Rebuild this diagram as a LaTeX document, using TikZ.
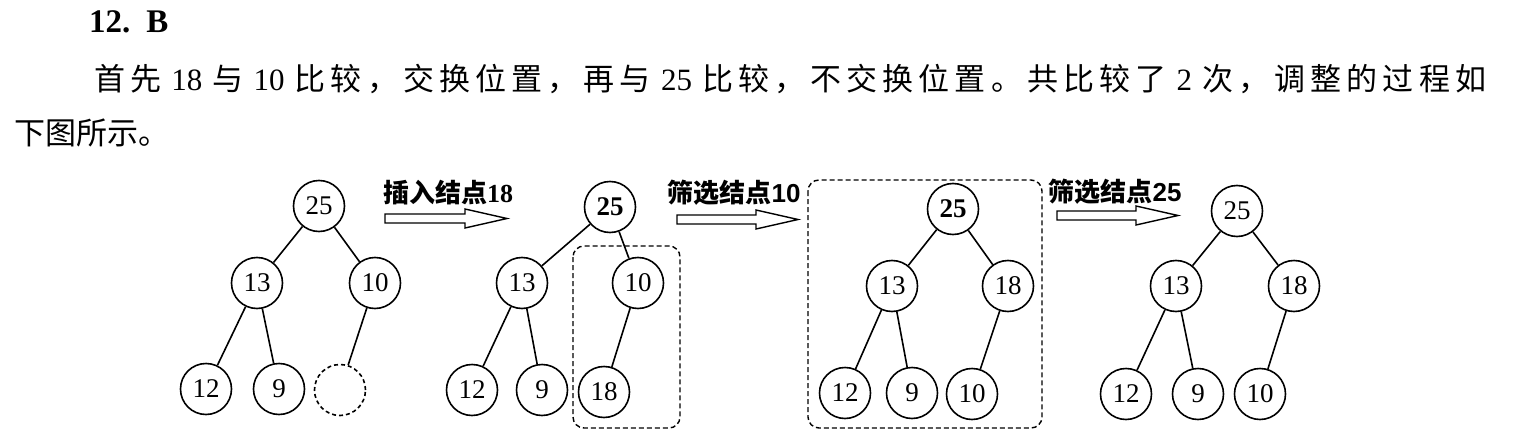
\documentclass[tikz,border=0pt]{standalone}
\usepackage{fontspec}
\setmainfont{Liberation Serif}
\newfontfamily\cjk{Noto Sans CJK SC}
\newfontfamily\lsans{Liberation Sans}
\newcommand\jg{\hspace{0pt plus 1fil}}
\newcommand\dg[1]{\hspace{5pt}{\rmfamily\fontsize{31}{31}\selectfont #1}\hspace{5pt}}
\begin{document}
\begin{tikzpicture}[x=1pt,y=-1pt,
  nd/.style={circle,draw,line width=1.6pt,minimum size=51pt,inner sep=0pt,font=\fontsize{27}{27}\selectfont},
  emp/.style={nd,dash pattern=on 4pt off 3pt},
  ed/.style={line width=1.6pt},
  dbox/.style={draw,dash pattern=on 5pt off 3pt,line width=1.4pt,rounded corners=11pt},
  lab/.style={inner sep=0pt,font=\fontsize{26}{26}\selectfont\bfseries},
  harr/.style={line width=1.4pt,line join=miter}]
\useasboundingbox (0,0) rectangle (1519,447);
% header text
\node[anchor=west,inner sep=0pt,font=\fontsize{33}{33}\selectfont\bfseries] (head) at (89,22) {12.\hspace{16pt}B};
\node[anchor=west,inner sep=0pt,font=\fontsize{31}{31}\selectfont] (line2) at (94,79) {\makebox[1392pt][s]{\cjk 首\jg 先\jg\dg{18}\jg 与\jg\dg{10}\jg 比\jg 较\jg ，\jg 交\jg 换\jg 位\jg 置\jg ，\jg 再\jg 与\jg\dg{25}\jg 比\jg 较\jg ，\jg 不\jg 交\jg 换\jg 位\jg 置\jg 。\jg 共\jg 比\jg 较\jg 了\jg\dg{2}\jg 次\jg ，\jg 调\jg 整\jg 的\jg 过\jg 程\jg 如}};
\node[anchor=west,inner sep=0pt,font=\fontsize{31}{31}\selectfont] (line3) at (14,133) {\cjk 下图所示。};
% tree 1
\node[nd] (a25) at (319,206) {25};
\node[nd] (a13) at (257,283) {13};
\node[nd] (a10) at (375,283) {10};
\node[nd] (a12) at (206,389) {12};
\node[nd] (a9) at (279,389) {9};
\node[emp] (ae) at (340,390) {};
\draw[ed] (a25) -- (a13); \draw[ed] (a25) -- (a10);
\draw[ed] (a13) -- (a12); \draw[ed] (a13) -- (a9);
\draw[ed] (a10) -- (ae);
% tree 2
\node[nd,font=\fontsize{27}{27}\selectfont\bfseries] (b25) at (610,207) {25};
\node[nd] (b13) at (522,283) {13};
\node[nd] (b10) at (638,283) {10};
\node[nd] (b12) at (472,390) {12};
\node[nd] (b9) at (542,390) {9};
\node[nd] (b18) at (604,392) {18};
\draw[ed] (b25) -- (b13); \draw[ed] (b25) -- (b10);
\draw[ed] (b13) -- (b12); \draw[ed] (b13) -- (b9);
\draw[ed] (b10) -- (b18);
\draw[dbox] (573,246) rectangle (680,428);
% tree 3
\node[nd,font=\fontsize{27}{27}\selectfont\bfseries] (c25) at (953,209) {25};
\node[nd] (c13) at (892,286) {13};
\node[nd] (c18) at (1008,286) {18};
\node[nd] (c12) at (845,393) {12};
\node[nd] (c9) at (912,393) {9};
\node[nd] (c10) at (972,394) {10};
\draw[ed] (c25) -- (c13); \draw[ed] (c25) -- (c18);
\draw[ed] (c13) -- (c12); \draw[ed] (c13) -- (c9);
\draw[ed] (c18) -- (c10);
\draw[dbox] (808,180) rectangle (1042,428);
% tree 4
\node[nd] (d25) at (1237,211) {25};
\node[nd] (d13) at (1176,286) {13};
\node[nd] (d18) at (1294,286) {18};
\node[nd] (d12) at (1126,394) {12};
\node[nd] (d9) at (1198,394) {9};
\node[nd] (d10) at (1260,394) {10};
\draw[ed] (d25) -- (d13); \draw[ed] (d25) -- (d18);
\draw[ed] (d13) -- (d12); \draw[ed] (d13) -- (d9);
\draw[ed] (d18) -- (d10);
% labels
\node[lab] (l1) at (448,193) {{\cjk 插入结点}18};
\node[lab] (l2) at (734,193) {{\cjk 筛选结点}{\lsans 10}};
\node[lab] (l3) at (1115,192) {{\cjk 筛选结点}{\lsans 25}};
% hollow arrows
\foreach \xa/\xb/\yc in {385/507/218.5, 677/798/219.5, 1057/1178/215.5}{
  \draw[harr] (\xa,\yc-4.5) -- (\xb-42,\yc-4.5) -- (\xb-42,\yc-9.5) -- (\xb,\yc)
    -- (\xb-42,\yc+9.5) -- (\xb-42,\yc+4.5) -- (\xa,\yc+4.5) -- cycle;
}
\end{tikzpicture}
\end{document}
